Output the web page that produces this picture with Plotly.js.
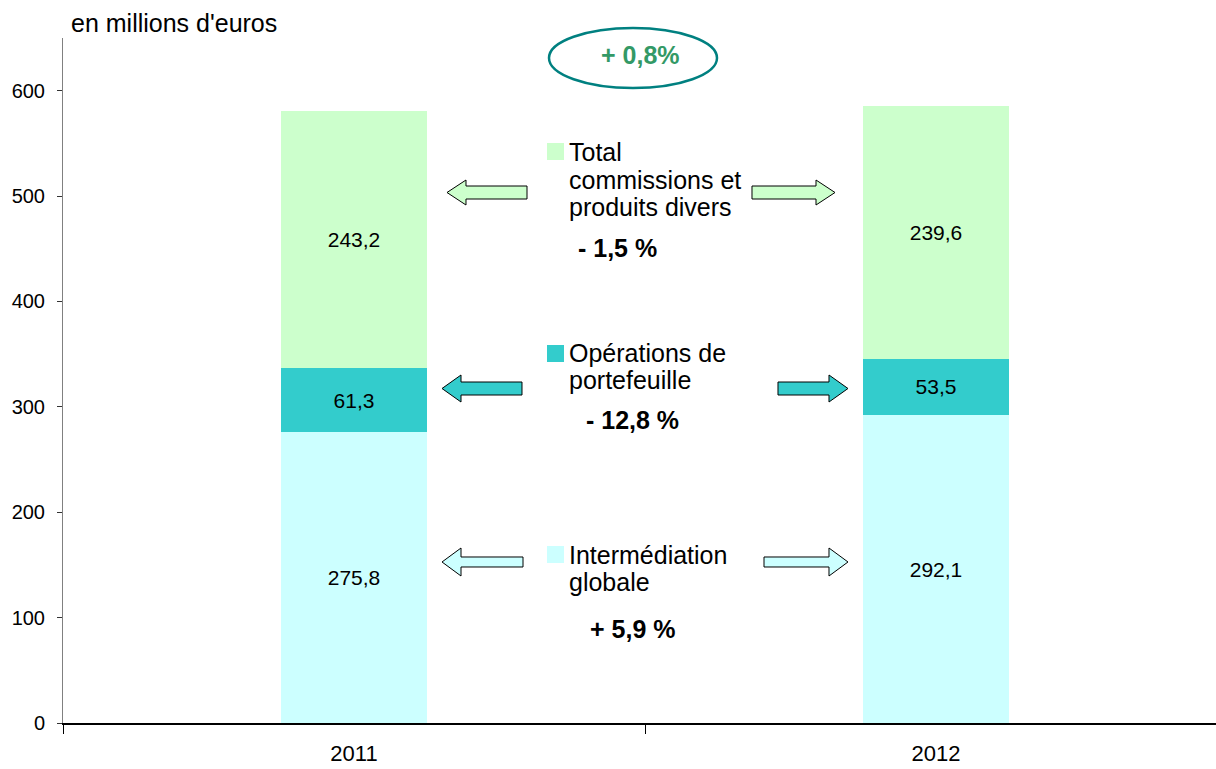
<!DOCTYPE html>
<html><head><meta charset="utf-8">
<script src="https://cdn.plot.ly/plotly-3.0.1.min.js"></script>
<style>html,body{margin:0;padding:0;background:#fff}#chart{width:1216px;height:769px}</style>
</head><body><div id="chart"></div>
<script>
const years = ['2011', '2012'];
const intermediation = [275.8, 292.1];
const portefeuille = [61.3, 53.5];
const commissions = [243.2, 239.6];
const seriesNames = ['Intermédiation globale', 'Opérations de portefeuille', 'Total commissions et produits divers'];
const changes = ['+ 5,9 %', '- 12,8 %', '- 1,5 %'];
const totalChange = '+ 0,8%';
const yTicks = [0, 100, 200, 300, 400, 500, 600];

const FONT = 'Arial, "Liberation Sans", sans-serif';
const W = 1216, H = 769, L = 63, R = 0, T = 38, B = 46;
const pw = W - L - R, ph = H - T - B;
const px = x => (x - L) / pw;
const py = y => (H - B - y) / ph;
const fmt = v => v.toFixed(1).replace('.', ',');

const colors = ['#CCFFFF', '#33CCCC', '#CCFFCC'];
const seriesVals = [intermediation, portefeuille, commissions];

const traces = seriesVals.map((vals, i) => ({
  type: 'bar', x: years, y: vals, name: seriesNames[i],
  marker: {color: colors[i], line: {width: 0}},
  width: 0.25,
  text: vals.map(fmt), textposition: 'inside', insidetextanchor: 'middle',
  textfont: {family: FONT, size: 21, color: '#000'},
  hoverinfo: 'skip', showlegend: false
}));

const totals = years.map((_, i) => intermediation[i] + portefeuille[i] + commissions[i]);
const totalShift = [35, 51];

const annotations = [];
totals.forEach((t, i) => annotations.push({
  x: years[i], y: t, xref: 'x', yref: 'y', text: '<b>' + fmt(t) + '</b>',
  showarrow: false, yanchor: 'middle', yshift: totalShift[i], xshift: i === 0 ? -10 : 0,
  font: {family: FONT, size: 25, color: '#000'}
}));

annotations.push({xref: 'paper', yref: 'paper', x: px(69), y: py(23), xanchor: 'left', yanchor: 'middle',
  text: "en millions d'euros", showarrow: false, font: {family: FONT, size: 25, color: '#000'}});

annotations.push({xref: 'paper', yref: 'paper', x: px(640), y: py(55), xanchor: 'center', yanchor: 'middle',
  text: '<b>' + totalChange + '</b>', showarrow: false, font: {family: FONT, size: 25, color: '#339966'}});

const legendRows = [
  {sq: 143, lines: [['Total', 152], ['commissions et', 180], ['produits divers', 207]], pct: [617, 248],
   la: [447, 527, 180, 205, 186, 199], ra: [752, 835, 180, 205, 186, 199], ci: 2},
  {sq: 345, lines: [['Opérations de', 353], ['portefeuille', 380]], pct: [632, 420],
   la: [442, 522, 375, 402, 382, 395], ra: [778, 848, 375, 402, 382, 395], ci: 1},
  {sq: 546, lines: [['Intermédiation', 555], ['globale', 582]], pct: [632, 629],
   la: [442, 523, 548, 576, 557, 567], ra: [764, 848, 548, 576, 557, 567], ci: 0}
];

const shapes = [];
function arrowPath(x0, x1, yt, yb, st, sb, dir) {
  const headLen = 19;
  const ym = (yt + yb) / 2;
  let pts;
  if (dir < 0) {
    const hb = x0 + headLen;
    pts = [[x0, ym], [hb, yt], [hb, st], [x1, st], [x1, sb], [hb, sb], [hb, yb]];
  } else {
    const hb = x1 - headLen;
    pts = [[x1, ym], [hb, yt], [hb, st], [x0, st], [x0, sb], [hb, sb], [hb, yb]];
  }
  return 'M ' + pts.map(p => px(p[0]).toFixed(5) + ',' + py(p[1]).toFixed(5)).join(' L ') + ' Z';
}

legendRows.forEach(r => {
  const ci = r.ci;
  shapes.push({type: 'rect', xref: 'paper', yref: 'paper', x0: px(547), x1: px(564), y0: py(r.sq + 17), y1: py(r.sq),
    fillcolor: colors[ci], line: {width: 0}});
  r.lines.forEach(([t, y]) => annotations.push({xref: 'paper', yref: 'paper', x: px(567), y: py(y),
    xanchor: 'left', yanchor: 'middle', text: t, showarrow: false, font: {family: FONT, size: 25, color: '#000'}}));
  annotations.push({xref: 'paper', yref: 'paper', x: px(r.pct[0]), y: py(r.pct[1]), xanchor: 'center', yanchor: 'middle',
    text: '<b>' + changes[ci] + '</b>', showarrow: false, font: {family: FONT, size: 25, color: '#000'}});
  shapes.push({type: 'path', xref: 'paper', yref: 'paper', path: arrowPath(...r.la, -1),
    fillcolor: colors[ci], line: {color: '#000', width: 1}});
  shapes.push({type: 'path', xref: 'paper', yref: 'paper', path: arrowPath(...r.ra, 1),
    fillcolor: colors[ci], line: {color: '#000', width: 1}});
});

shapes.push({type: 'circle', xref: 'paper', yref: 'paper', x0: px(549), x1: px(717), y0: py(88), y1: py(28),
  line: {color: '#008080', width: 2.5}, fillcolor: 'rgba(0,0,0,0)'});

const layout = {
  width: W, height: H, margin: {l: L, r: R, t: T, b: B},
  paper_bgcolor: '#fff', plot_bgcolor: '#fff',
  barmode: 'stack', separators: ', ',
  font: {family: FONT, color: '#000'},
  xaxis: {type: 'category', range: [-0.5, -0.5 + pw / 582], tickson: 'boundaries',
    ticks: 'outside', ticklen: 9, tickcolor: '#000', tickwidth: 1,
    showline: true, linecolor: '#000', linewidth: 2, showgrid: false, zeroline: false,
    ticklabelstandoff: 10,
    tickfont: {family: FONT, size: 22, color: '#000'}, fixedrange: true},
  yaxis: {range: [0, 650], tickvals: yTicks, ticktext: yTicks.map(String),
    ticks: 'outside', ticklen: 5, tickcolor: '#333', showline: true, linecolor: '#808080', linewidth: 1,
    ticklabelstandoff: 8,
    showgrid: false, zeroline: false, tickfont: {family: FONT, size: 20, color: '#000'}, fixedrange: true},
  annotations: annotations, shapes: shapes, showlegend: false
};

Plotly.newPlot('chart', traces, layout, {displayModeBar: false, staticPlot: true});
</script></body></html>
